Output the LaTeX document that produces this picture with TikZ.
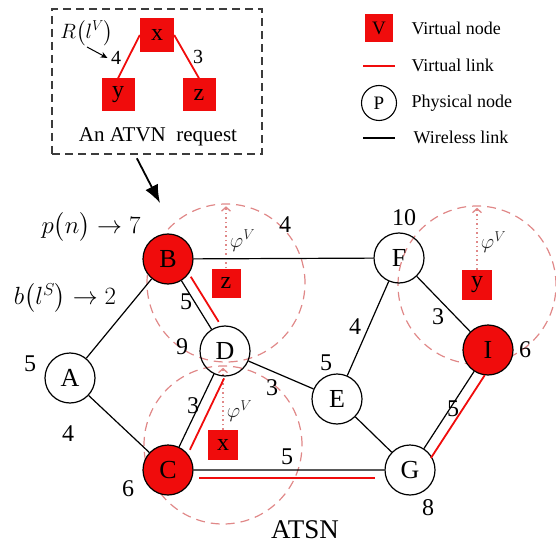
\documentclass[tikz,border=0pt]{standalone}
\usepackage{amsmath}
\usepackage{amssymb}
\usepackage{fontspec}
\setmainfont{Liberation Serif}
\usetikzlibrary{arrows.meta,calc}

\definecolor{vred}{RGB}{240,12,12}
\definecolor{ringred}{RGB}{224,136,136}
\definecolor{boxgray}{RGB}{60,60,60}

\tikzset{
  phys/.style={circle,draw,line width=1.2pt,minimum size=50pt,inner sep=0pt,font=\fontsize{26}{26}\selectfont},
  virt/.style={phys,fill=vred},
  vsq/.style={rectangle,fill=vred,minimum size=30pt,inner sep=0pt,font=\fontsize{24}{24}\selectfont},
  wlink/.style={line width=1.2pt},
  vlink/.style={vred,line width=1.8pt},
  vring/.style={ringred,dash pattern=on 9pt off 6pt,line width=1.2pt},
  phiarr/.style={ringred,line width=1.3pt,dash pattern=on 1.5pt off 3pt,-{Straight Barb[length=4pt,width=9pt]}},
  philab/.style={right,text=black!85,font=\fontsize{22}{22}\selectfont},
  num/.style={font=\fontsize{24}{24}\selectfont},
  legtext/.style={font=\fontsize{18}{18}\selectfont,anchor=west},
}

\begin{document}
\begin{tikzpicture}[x=1pt,y=-1pt]
\useasboundingbox (0,0) rectangle (556,545);
%richiesta
\node[draw=boxgray,line width=1.4pt,dash pattern=on 8pt off 5pt,minimum width=210pt,minimum height=145pt] (req) at (157,81.5) {};
\node[vsq,minimum size=34pt] (rx) at (157,35) {x};
\node[vsq,minimum size=33pt] (ry) at (118,95) {y};
\node[vsq,minimum size=33pt] (rz) at (199,95) {z};
\draw[vlink] (rx.west) -- (ry.north);
\draw[vlink] (rx.east) -- (rz.north);
\node[font=\fontsize{20}{20}\selectfont] (wxy) at (116,58) {4};
\node[font=\fontsize{20}{20}\selectfont] (wxz) at (198,57) {3};
\node[font=\fontsize{21}{21}\selectfont] (rl) at (87,33) {$R\big(l^V\big)$};
\coordinate (rlarr) at (87,47);
\draw[line width=1pt,-{Stealth[length=7pt,width=6pt]}] (rlarr) -- (wxy.west);
\node[font=\fontsize{21}{21}\selectfont] (reqlab) at (158,137) {An ATVN\ \ request};
\coordinate (reqtip) at (160,203);
\draw[line width=1.8pt,-{Latex[length=18pt,width=14pt]},shorten <=4pt] ([xshift=-22pt]req.south) -- (reqtip);
%legenda
\node[vsq,minimum size=28pt,font=\fontsize{19}{19}\selectfont] (lv) at (379,28) {V};
\node[legtext] (lvt) at (408,28) {Virtual node};
\draw[vlink] (363,66) -- (395,66);
\node[legtext] (llt) at (408,65) {Virtual link};
\node[circle,draw,line width=1.1pt,minimum size=35pt,inner sep=0pt,font=\fontsize{19}{19}\selectfont] (lp) at (379,103) {P};
\node[legtext] (lpt) at (408,103) {Physical node};
\draw[wlink] (363,138) -- (395,138);
\node[legtext] (lwt) at (410,137) {Wireless link};
%nodi virtuali mappati
\node[vsq,minimum size=29pt] (z) at (226,283) {z};
\node[vsq] (y) at (477,285) {y};
\node[vsq] (x) at (223,445) {x};
\draw[vring] (z) circle[radius=79pt];
\draw[vring] (y) circle[radius=79pt];
\draw[vring] (x) circle[radius=79pt];
\draw[phiarr] (z.north) -- node[pos=.45,philab] {$\varphi^V$} ++(0,-62);
\draw[phiarr] (y.north) -- node[pos=.45,philab] {$\varphi^V$} ++(0,-62);
\draw[phiarr] (x.north) -- node[pos=.3,philab] {$\varphi^V$} ++(0,-62);
%nodi fisici
\node[virt] (B) at (168,259) {B};
\node[phys] (A) at (70,378) {A};
\node[phys] (D) at (225,351) {D};
\node[virt] (C) at (168,470) {C};
\node[phys] (E) at (337,399) {E};
\node[phys] (F) at (399,258) {F};
\node[phys] (G) at (410,470) {G};
\node[virt] (I) at (488,350) {I};
%collegamenti
\draw[wlink] (A) -- (B) (A) -- (C) (B) -- (F) (B) -- (D) (D) -- (E) (D) -- (C)
  (C) -- (G) (E) -- (F) (E) -- (G) (F) -- (I) (G) -- (I);
\draw[vlink] ($(B)!0.25!(D)!10pt!90:(D)$) -- ($(B)!0.74!(D)!10pt!90:(D)$);
\draw[vlink] ($(D)!0.19!(C)!11pt!90:(C)$) -- ($(D)!0.79!(C)!11pt!90:(C)$);
\draw[vlink] ($(G)!0.145!(C)!8pt!90:(C)$) -- ($(G)!0.87!(C)!8pt!90:(C)$);
\draw[vlink] ($(I)!0.16!(G)!11pt!90:(G)$) -- ($(I)!0.85!(G)!11pt!90:(G)$);
%pesi
\node[num] (nA) at (30,364) {5};
\node[num] (wAC) at (68,434) {4};
\node[num] (nC) at (128,489) {6};
\node[num] (wCD) at (193,406) {3};
\node[num] (nD) at (182,347) {9};
\node[num] (wBD) at (186,302) {5};
\node[num] (wBF) at (285,225) {4};
\node[num] (nF) at (404,218) {10};
\node[num] (wEF) at (355,327) {4};
\node[num] (nE) at (326,363) {5};
\node[num] (wDE) at (272,388) {3};
\node[num] (wFI) at (438,317) {3};
\node[num] (nI) at (525,350) {6};
\node[num] (wCG) at (287,457) {5};
\node[num] (wGI) at (453,409) {5};
\node[num] (nG) at (428,508) {8};
\node[num] (pn) at (91,227) {$p\big(n\big)\rightarrow 7$};
\node[num] (bl) at (65,298) {$b\big(l^S\big)\rightarrow 2$};
\node[font=\fontsize{27}{27}\selectfont] (atsn) at (305,530) {ATSN};
\end{tikzpicture}
\end{document}
